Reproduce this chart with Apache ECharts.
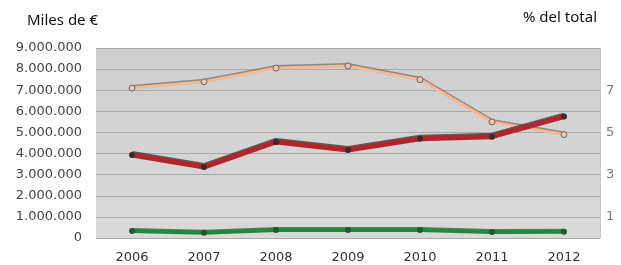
<!DOCTYPE html>
<html>
	<head>
		<meta charset="utf-8">
		<title></title>
		<script src="https://cdn.jsdelivr.net/npm/echarts@6/dist/echarts.min.js"></script>
	</head>
	<body style="margin:0;background:#fff;">
		<div id="my" style="width: 621px;height: 265px;"></div>

		<script>
			var years = ['2006', '2007', '2008', '2009', '2010', '2011', '2012'];
			// miles de euros
			var naranja = [7100000, 7400000, 8050000, 8150000, 7500000, 5500000, 4900000];
			var rojo = [3930000, 3360000, 4550000, 4170000, 4700000, 4800000, 5750000];
			var verde = [330000, 250000, 380000, 380000, 380000, 280000, 300000];
			var pctTicks = [1, 3, 5, 7];

			var myChart = echarts.init(document.getElementById('my'));

			function fmt(v) {
				return String(v).replace(/\B(?=(\d{3})+(?!\d))/g, '.');
			}

			var option = {
				animation: false,
				title: [
					{text: 'Miles de €', left: 22, top: 8, textStyle: {fontFamily: 'Noto Sans', fontSize: 15, fontWeight: 'normal', color: '#111'}},
					{text: '% del total', right: 19, top: 5, textStyle: {fontFamily: 'Noto Sans', fontSize: 15, fontWeight: 'normal', color: '#111'}}
				],
				grid: {
					left: 96, right: 21, top: 48, bottom: 27,
					show: true,
					borderWidth: 0,
					backgroundColor: new echarts.graphic.LinearGradient(0, 0, 0, 1, [
						{offset: 0, color: '#cfcfcf'},
						{offset: 1, color: '#d9d9d9'}
					])
				},
				xAxis: {
					type: 'category',
					data: years,
					boundaryGap: true,
					axisLine: {show: false},
					axisTick: {show: false},
					axisLabel: {color: '#333', fontFamily: 'DejaVu Sans', fontSize: 13, margin: 13}
				},
				yAxis: [
					{
						type: 'value',
						min: 0, max: 9000000, interval: 1000000,
						axisLine: {show: false},
						axisTick: {show: false},
						splitLine: {lineStyle: {color: '#a9a9a9', width: 1}},
						axisLabel: {color: '#444', fontFamily: 'DejaVu Sans', fontSize: 13, margin: 14, formatter: fmt}
					},
					{
						type: 'value',
						min: 0, max: 9, interval: 1,
						position: 'right',
						axisLine: {show: true, lineStyle: {color: '#c8c8c8'}},
						axisTick: {show: false},
						splitLine: {show: false},
						axisLabel: {
							color: '#8a7470', fontFamily: 'DejaVu Sans', fontSize: 13, margin: 6,
							formatter: function (v) { return pctTicks.indexOf(v) >= 0 ? v : ''; }
						}
					}
				],
				series: [
					{
						name: 'naranja', type: 'line', data: naranja,
						symbol: 'circle', symbolSize: 6,
						lineStyle: {color: '#f3b894', width: 3, shadowColor: 'rgba(90,90,90,0.6)', shadowOffsetY: -1.5},
						itemStyle: {color: '#f3c6a8', borderColor: '#666', borderWidth: 1}
					},
					{
						name: 'rojo', type: 'line', data: rojo,
						symbol: 'circle', symbolSize: 6,
						lineStyle: {color: '#b3252a', width: 5, shadowColor: 'rgba(40,40,40,0.7)', shadowOffsetY: -1.5},
						itemStyle: {color: '#3a2a2a'}
					},
					{
						name: 'verde', type: 'line', data: verde,
						symbol: 'circle', symbolSize: 6,
						lineStyle: {color: '#1f8a3c', width: 4, shadowColor: 'rgba(30,60,30,0.6)', shadowOffsetY: -1},
						itemStyle: {color: '#1e5a2c'}
					}
				]
			};

			myChart.setOption(option);
		</script>
	</body>
</html>
